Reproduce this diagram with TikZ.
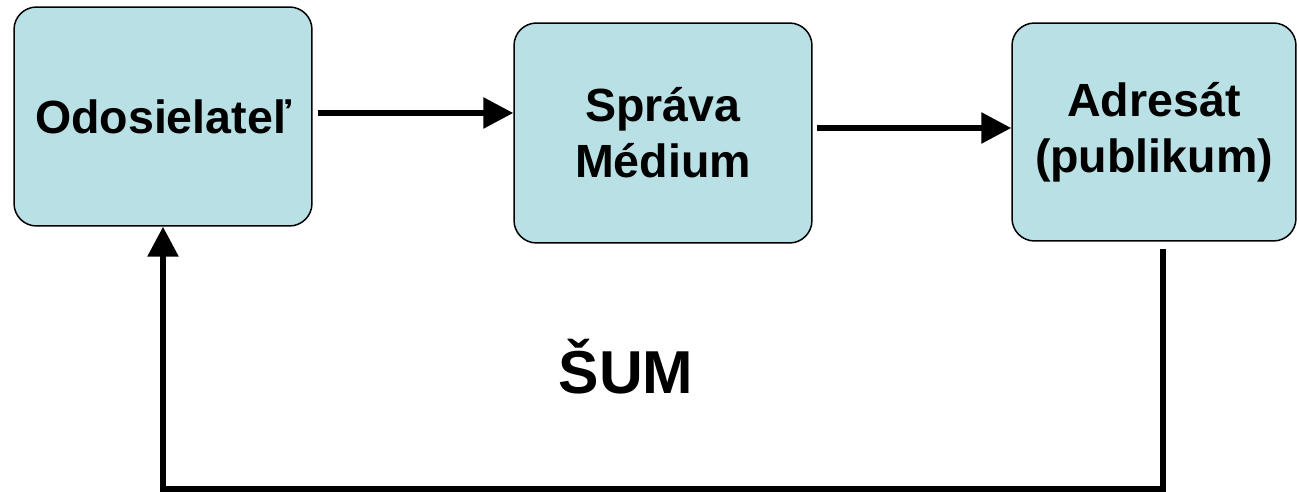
\documentclass[tikz,border=0pt]{standalone}
\usepackage{fontspec}
\setmainfont{Liberation Sans}
\usetikzlibrary{arrows.meta}
\definecolor{boxfill}{RGB}{185,224,228}

\begin{document}
\begin{tikzpicture}
  [x=0.02cm,y=-0.02cm
  ,box/.style={draw,line width=0.85pt,fill=boxfill,rounded corners=0.45cm
    ,align=center,inner sep=0pt
    ,font=\fontsize{26.5}{32}\selectfont\bfseries}
  ,flow/.style={line width=3.3pt,-{Triangle[length=0.6cm,width=0.6cm]}}
  ]

  \useasboundingbox (0,0) rectangle (1299,492);

  % sender
  \node[box,minimum width=5.96cm,minimum height=4.38cm] (sender) at (163,116.5) {Odosielateľ};

  % message
  \node[box,minimum width=5.96cm,minimum height=4.4cm] (message) at (663,133) {Správa\\Médium};

  % receiver
  \node[box,minimum width=5.68cm,minimum height=4.36cm] (receiver) at (1154,132) {Adresát\\(publikum)};

  % noise
  \node[font=\fontsize{34.5}{40}\selectfont\bfseries] (noise) at (626,367) {ŠUM};

  % arrows
  \draw[flow,shorten <=0.1cm] (sender.east |- 0,113) -- (message.west |- 0,113);
  \draw[flow,shorten <=0.08cm] (message.east |- 0,128) -- (receiver.west |- 0,128);

  % feedback
  \coordinate (fbtop) at (1163,249);
  \coordinate (fbcorner) at (1163,489);
  \draw[flow] (fbtop) -- (fbcorner) -| (sender.south);

\end{tikzpicture}
\end{document}
